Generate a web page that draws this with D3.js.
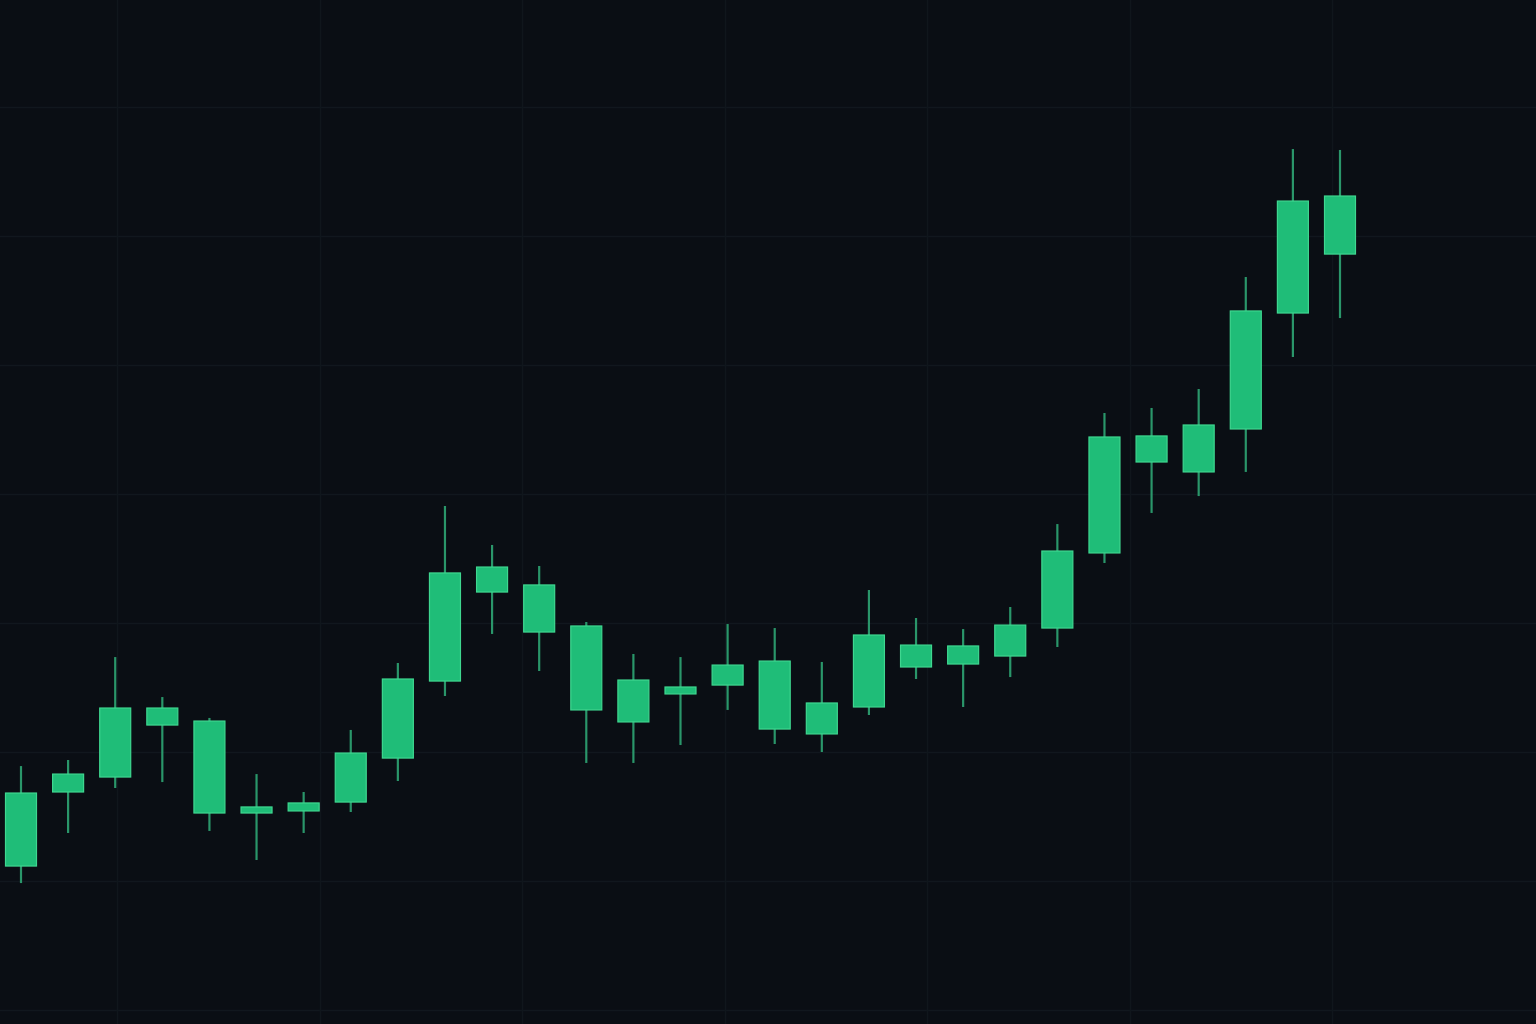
<!DOCTYPE html>
<html>
<head>
<meta charset="utf-8">
<script src="https://cdn.jsdelivr.net/npm/d3@7"></script>
<style>
  html, body { margin: 0; padding: 0; background: #0a0e14; overflow: hidden; }
  svg { display: block; }
</style>
</head>
<body>
<svg id="chart" width="1536" height="1024"></svg>
<script>
// ---- data ----
const categories = d3.range(1, 30).map(i => "C" + i);
const opens  = [101.16,106.90,108.06,112.09,105.27,105.27,105.43,106.12,109.53,115.50,122.40,119.30,113.26,112.33,114.50,115.19,111.78,111.40,113.49,116.59,116.82,117.44,119.61,125.43,132.48,131.71,135.04,144.03,148.60];
const closes = [106.82,108.29,113.41,113.41,112.40,105.74,106.05,109.92,115.66,123.88,124.34,122.95,119.77,115.58,115.04,116.74,117.05,113.80,119.07,118.29,118.22,119.84,125.58,134.42,134.50,135.35,144.19,152.71,153.10];
const highs  = [108.91,109.38,117.36,114.26,112.64,108.29,106.90,111.71,116.90,129.07,126.05,124.42,120.08,117.60,117.36,119.92,119.61,116.98,122.56,120.39,119.53,121.24,127.67,136.28,136.67,138.14,146.82,156.74,156.67];
const lows   = [ 99.84,103.72,107.21,107.67,103.88,101.63,103.72,105.35,107.75,114.34,119.15,116.28,109.15,109.15,110.54,113.26,110.62,110.00,112.87,115.66,113.49,115.81,118.14,124.65,128.53,129.84,131.71,140.62,143.64];
const priceTicks = [90, 100, 110, 120, 130, 140, 150, 160];
const gridCols = [0, 1, 2, 3, 4, 5, 6];

// ---- layout ----
const W = 1536, H = 1024;
const svg = d3.select("#chart");

svg.append("rect").attr("width", W).attr("height", H).attr("fill", "#0a0e14");

const x = d3.scalePoint().domain(categories).range([21, 1340]);
const y = d3.scaleLinear().domain([88.915, 168.295]).range([H, 0]);
const xGrid = d3.scaleLinear().domain([0, 1]).range([117, 319.5]);

// grid
const grid = svg.append("g").attr("class", "grid");
grid.selectAll("line.h").data(priceTicks).join("line")
  .attr("class", "h")
  .attr("x1", 0).attr("x2", W)
  .attr("y1", d => Math.round(y(d)) + 0.5).attr("y2", d => Math.round(y(d)) + 0.5)
  .attr("stroke", "#11171e").attr("stroke-width", 1.6);
grid.selectAll("line.v").data(gridCols).join("line")
  .attr("class", "v")
  .attr("y1", 0).attr("y2", H)
  .attr("x1", d => Math.round(xGrid(d)) + 0.5).attr("x2", d => Math.round(xGrid(d)) + 0.5)
  .attr("stroke", "#10161c").attr("stroke-width", 1.6);

// candles
const data = categories.map((c, i) => ({c, o: opens[i], h: highs[i], l: lows[i], cl: closes[i]}));
const bw = 31;
const g = svg.append("g").attr("class", "candles");
const cand = g.selectAll("g.candle").data(data).join("g").attr("class", "candle");

cand.append("line")
  .attr("x1", d => x(d.c)).attr("x2", d => x(d.c))
  .attr("y1", d => y(d.h)).attr("y2", d => y(d.l))
  .attr("stroke", "#2a966a").attr("stroke-width", 2.2);

cand.append("rect")
  .attr("x", d => x(d.c) - bw / 2)
  .attr("y", d => y(Math.max(d.o, d.cl)))
  .attr("width", bw)
  .attr("height", d => Math.max(3, Math.abs(y(d.o) - y(d.cl))))
  .attr("fill", "#1fbd78")
  .attr("stroke", "#3fd790")
  .attr("stroke-width", 1.2);
</script>
</body>
</html>
